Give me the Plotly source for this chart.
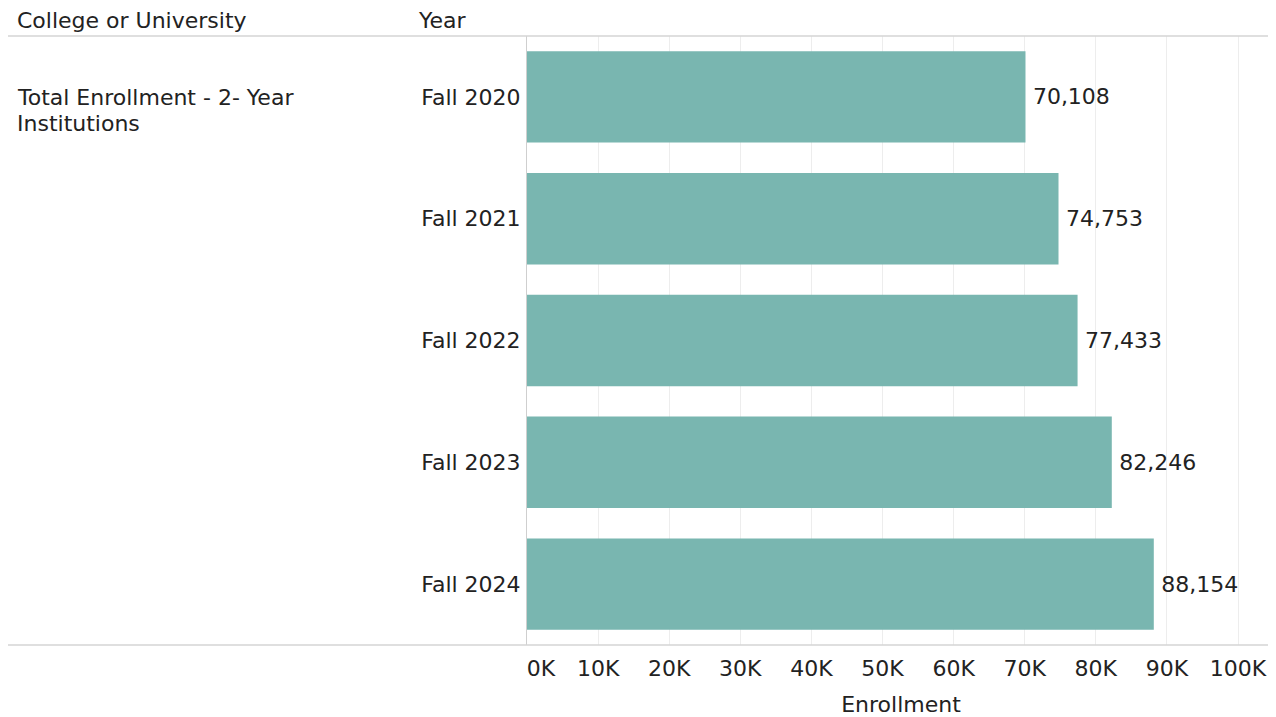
import plotly.graph_objects as go

# ---- data ----
years = ["Fall 2020", "Fall 2021", "Fall 2022", "Fall 2023", "Fall 2024"]
enrollment = [70108, 74753, 77433, 82246, 88154]
group_label_lines = ["Total Enrollment - 2- Year", "Institutions"]
tick_values = [0, 10000, 20000, 30000, 40000, 50000, 60000, 70000, 80000, 90000, 100000]
tick_labels = ["0K", "10K", "20K", "30K", "40K", "50K", "60K", "70K", "80K", "90K", "100K"]

# page offset (body margin of the html page)
OFF = 8
W, H = 1276 - OFF, 717 - OFF
L, R, T = 527 - OFF, 1, 36 - OFF
B = H - (645 - OFF)
pw = W - L - R
ph = H - T - B

def px_x(p):
    return (p - OFF - L) / pw

def px_y(p):
    return (H - B - (p - OFF)) / ph

FONT = "DejaVu Sans"
TXT = "#222222"
FS = 22

shown_ticks = list(tick_labels)
shown_ticks[0] = "\u00a0\u00a0\u00a0\u00a0" + shown_ticks[0]

fig = go.Figure(go.Bar(
    x=enrollment,
    y=years,
    orientation="h",
    marker=dict(color="#79b6b0", line=dict(width=0)),
    text=[f"\u2009{v:,}" for v in enrollment],
    textposition="outside",
    constraintext="none",
    cliponaxis=False,
    textfont=dict(family=FONT, size=FS, color=TXT),
    hoverinfo="skip",
))

annots = [
    dict(text="College or University", xref="paper", yref="paper", x=px_x(15), y=px_y(21),
         xanchor="left", yanchor="middle", showarrow=False,
         font=dict(family=FONT, size=FS, color=TXT)),
    dict(text="Year", xref="paper", yref="paper", x=px_x(416), y=px_y(21),
         xanchor="left", yanchor="middle", showarrow=False,
         font=dict(family=FONT, size=FS, color=TXT)),
]
for i, line in enumerate(group_label_lines):
    annots.append(dict(text=line, xref="paper", yref="paper", x=px_x(15), y=px_y(97 + 26 * i),
                       xanchor="left", yanchor="middle", align="left", showarrow=False,
                       font=dict(family=FONT, size=FS, color=TXT)))

fig.update_layout(
    width=W, height=H,
    margin=dict(l=L, r=R, t=T, b=B, pad=0),
    paper_bgcolor="white",
    plot_bgcolor="white",
    bargap=0.25,
    showlegend=False,
    font=dict(family=FONT, size=FS, color=TXT),
    xaxis=dict(
        range=[0, 105200],
        tickvals=tick_values,
        ticktext=shown_ticks,
        showgrid=True,
        gridcolor="#ededed",
        gridwidth=1,
        zeroline=False,
        showline=False,
        ticks="",
        ticklabelstandoff=8,
        tickfont=dict(family=FONT, size=FS, color=TXT),
        title=dict(text="Enrollment", font=dict(family=FONT, size=FS, color=TXT), standoff=17),
        fixedrange=True,
    ),
    yaxis=dict(
        autorange="reversed",
        showgrid=False,
        zeroline=False,
        showline=True,
        linecolor="#cfcfcf",
        linewidth=1,
        ticks="",
        ticklabelstandoff=1,
        tickfont=dict(family=FONT, size=FS, color=TXT),
        fixedrange=True,
    ),
    shapes=[
        dict(type="line", xref="paper", yref="paper", x0=px_x(8), x1=1, y0=1, y1=1,
             line=dict(color="#d4d4d4", width=1.5)),
        dict(type="line", xref="paper", yref="paper", x0=px_x(8), x1=1, y0=0, y1=0,
             line=dict(color="#d4d4d4", width=1.5)),
    ],
    annotations=annots,
)

fig.write_html("out.html")
